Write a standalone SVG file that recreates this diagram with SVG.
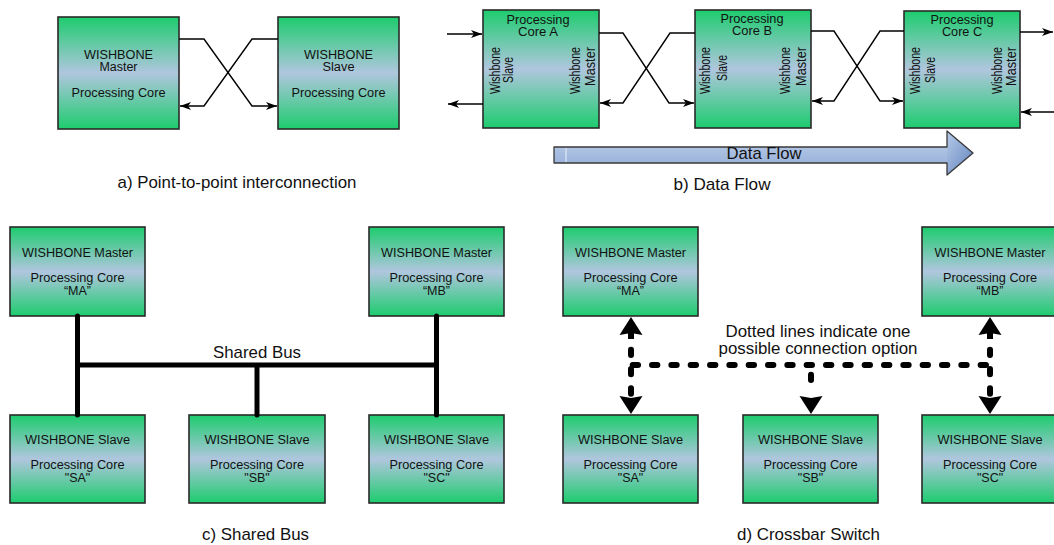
<svg xmlns="http://www.w3.org/2000/svg" width="1054" height="545" viewBox="0 0 1054 545">
  <defs>
    <linearGradient id="core" x1="0" y1="0" x2="0" y2="1">
      <stop offset="0" stop-color="#1dcc6e"/>
      <stop offset="0.5" stop-color="#b0c6de"/>
      <stop offset="1" stop-color="#1dcc6e"/>
    </linearGradient>
    <linearGradient id="flow" x1="0" y1="0" x2="0" y2="1">
      <stop offset="0" stop-color="#c2d3ec"/>
      <stop offset="1" stop-color="#8ea9d5"/>
    </linearGradient>
    <linearGradient id="flowHead" x1="0" y1="0" x2="1" y2="1">
      <stop offset="0" stop-color="#b8cbe8"/>
      <stop offset="1" stop-color="#5f82bd"/>
    </linearGradient>
    <marker id="ah" markerUnits="userSpaceOnUse" markerWidth="12" markerHeight="9" refX="11" refY="4" orient="auto" overflow="visible">
      <path d="M11,4 L0,0 L3,4 L0,8 Z" fill="#000"/>
    </marker>
    <path id="bigHead" d="M0,0 L11.5,18 L0,16 L-11.5,18 Z" fill="#000"/>
  </defs>
  <style>
    .box { fill: url(#core); stroke: #2a2a2a; stroke-width: 1.6; }
    text { font-family: "Liberation Sans", Arial, sans-serif; fill: #111; text-anchor: middle; }
    .t { font-size: 12.5px; }
    .r { font-size: 14.5px; }
    .cap { font-size: 17px; }
    .wire { fill: none; stroke: #000; stroke-width: 1.4; }
    .bus { fill: none; stroke: #000; stroke-width: 5; stroke-linecap: round; }
    .dot { fill: none; stroke: #000; stroke-width: 6; stroke-linecap: round; stroke-dasharray: 5.33 14; }
  </style>

  <!-- a) point-to-point -->
  <g id="a-master">
    <rect class="box" x="58" y="17" width="121" height="112"/>
    <text class="t" x="118.5" y="58.5" textLength="69" lengthAdjust="spacingAndGlyphs">WISHBONE</text>
    <text class="t" x="118.5" y="70.5" textLength="38" lengthAdjust="spacingAndGlyphs">Master</text>
    <text class="t" x="118.5" y="96.5" textLength="94" lengthAdjust="spacingAndGlyphs">Processing Core</text>
  </g>
  <g id="a-slave">
    <rect class="box" x="278" y="17" width="121" height="112"/>
    <text class="t" x="338.5" y="58.5" textLength="69" lengthAdjust="spacingAndGlyphs">WISHBONE</text>
    <text class="t" x="338.5" y="70.5" textLength="32" lengthAdjust="spacingAndGlyphs">Slave</text>
    <text class="t" x="338.5" y="96.5" textLength="94" lengthAdjust="spacingAndGlyphs">Processing Core</text>
  </g>
  <g id="a-wires">
    <path class="wire" d="M179,39 H204 L252,106 H277" marker-end="url(#ah)"/>
    <path class="wire" d="M278,39 H252 L204,106 H180" marker-end="url(#ah)"/>
  </g>
  <text class="cap" x="237" y="188" textLength="239" lengthAdjust="spacingAndGlyphs">a) Point-to-point interconnection</text>

  <!-- b) data flow -->
  <g id="core-a">
    <rect class="box" x="483" y="10" width="116" height="118"/>
    <text class="t" x="538" y="23.5" textLength="63" lengthAdjust="spacingAndGlyphs">Processing</text>
    <text class="t" x="538" y="36" textLength="40" lengthAdjust="spacingAndGlyphs">Core A</text>
    <text class="r" transform="translate(500,70.5) rotate(-90)" textLength="47" lengthAdjust="spacingAndGlyphs">Wishbone</text>
    <text class="r" transform="translate(513,70) rotate(-90)" textLength="26" lengthAdjust="spacingAndGlyphs">Slave</text>
    <text class="r" transform="translate(580,70.5) rotate(-90)" textLength="47" lengthAdjust="spacingAndGlyphs">Wishbone</text>
    <text class="r" transform="translate(595,66.5) rotate(-90)" textLength="39" lengthAdjust="spacingAndGlyphs">Master</text>
  </g>
  <g id="core-b">
    <rect class="box" x="695" y="10" width="116" height="118"/>
    <text class="t" x="752" y="22.5" textLength="63" lengthAdjust="spacingAndGlyphs">Processing</text>
    <text class="t" x="752" y="34.5" textLength="40" lengthAdjust="spacingAndGlyphs">Core B</text>
    <text class="r" transform="translate(710,70.5) rotate(-90)" textLength="47" lengthAdjust="spacingAndGlyphs">Wishbone</text>
    <text class="r" transform="translate(727,68) rotate(-90)" textLength="26" lengthAdjust="spacingAndGlyphs">Slave</text>
    <text class="r" transform="translate(790,70.5) rotate(-90)" textLength="47" lengthAdjust="spacingAndGlyphs">Wishbone</text>
    <text class="r" transform="translate(806,66.5) rotate(-90)" textLength="39" lengthAdjust="spacingAndGlyphs">Master</text>
  </g>
  <g id="core-c">
    <rect class="box" x="904" y="11" width="116" height="117"/>
    <text class="t" x="962" y="23.5" textLength="63" lengthAdjust="spacingAndGlyphs">Processing</text>
    <text class="t" x="962" y="36" textLength="40" lengthAdjust="spacingAndGlyphs">Core C</text>
    <text class="r" transform="translate(920,70.5) rotate(-90)" textLength="47" lengthAdjust="spacingAndGlyphs">Wishbone</text>
    <text class="r" transform="translate(935,70) rotate(-90)" textLength="26" lengthAdjust="spacingAndGlyphs">Slave</text>
    <text class="r" transform="translate(1002,70.5) rotate(-90)" textLength="47" lengthAdjust="spacingAndGlyphs">Wishbone</text>
    <text class="r" transform="translate(1016,66.5) rotate(-90)" textLength="39" lengthAdjust="spacingAndGlyphs">Master</text>
  </g>
  <g id="b-wires">
    <path class="wire" d="M447,34 H482" marker-end="url(#ah)"/>
    <path class="wire" d="M483,104 H448" marker-end="url(#ah)"/>
    <path class="wire" d="M599,33 H623 L669,103 H694" marker-end="url(#ah)"/>
    <path class="wire" d="M695,33 H670 L623,103 H600" marker-end="url(#ah)"/>
    <path class="wire" d="M811,31 H834 L880,101 H903" marker-end="url(#ah)"/>
    <path class="wire" d="M904,31 H880 L834,101 H812" marker-end="url(#ah)"/>
    <path class="wire" d="M1020,32 H1053" marker-end="url(#ah)"/>
    <path class="wire" d="M1054,112 H1021" marker-end="url(#ah)"/>
  </g>
  <g id="data-flow">
    <path d="M554,147 H947 V131 L973,153 L947,175 V163 H554 Z" fill="url(#flow)"/>
    <path d="M947,131 L973,153 L947,175 Z" fill="url(#flowHead)"/>
    <path d="M554,147 H947 V131 L973,153 L947,175 V163 H554 Z" fill="none" stroke="#3a3a3a" stroke-width="1.3" stroke-linejoin="round"/>
    <line x1="566" y1="148" x2="566" y2="162" stroke="#e8f0fb" stroke-width="1"/>
    <text class="cap" x="764" y="159" textLength="75" lengthAdjust="spacingAndGlyphs">Data Flow</text>
  </g>
  <text class="cap" x="722" y="190" textLength="97" lengthAdjust="spacingAndGlyphs">b) Data Flow</text>

  <!-- c) shared bus -->
  <g id="c-ma">
    <rect class="box" x="10" y="227" width="135" height="89"/>
    <text class="t" x="77.5" y="256.5" textLength="111" lengthAdjust="spacingAndGlyphs">WISHBONE Master</text>
    <text class="t" x="77.5" y="281.5" textLength="94" lengthAdjust="spacingAndGlyphs">Processing Core</text>
    <text class="t" x="77.5" y="294.5">“MA”</text>
  </g>
  <g id="c-mb">
    <rect class="box" x="369" y="227" width="135" height="89"/>
    <text class="t" x="436.5" y="256.5" textLength="111" lengthAdjust="spacingAndGlyphs">WISHBONE Master</text>
    <text class="t" x="436.5" y="281.5" textLength="94" lengthAdjust="spacingAndGlyphs">Processing Core</text>
    <text class="t" x="436.5" y="294.5">“MB”</text>
  </g>
  <g id="c-sa">
    <rect class="box" x="10" y="415" width="135" height="88"/>
    <text class="t" x="77.5" y="443.5" textLength="105" lengthAdjust="spacingAndGlyphs">WISHBONE Slave</text>
    <text class="t" x="77.5" y="468.5" textLength="94" lengthAdjust="spacingAndGlyphs">Processing Core</text>
    <text class="t" x="77.5" y="481.5">"SA"</text>
  </g>
  <g id="c-sb">
    <rect class="box" x="189" y="415" width="136" height="88"/>
    <text class="t" x="257" y="443.5" textLength="105" lengthAdjust="spacingAndGlyphs">WISHBONE Slave</text>
    <text class="t" x="257" y="468.5" textLength="94" lengthAdjust="spacingAndGlyphs">Processing Core</text>
    <text class="t" x="257" y="481.5">"SB"</text>
  </g>
  <g id="c-sc">
    <rect class="box" x="369" y="415" width="135" height="88"/>
    <text class="t" x="436.5" y="443.5" textLength="105" lengthAdjust="spacingAndGlyphs">WISHBONE Slave</text>
    <text class="t" x="436.5" y="468.5" textLength="94" lengthAdjust="spacingAndGlyphs">Processing Core</text>
    <text class="t" x="436.5" y="481.5">"SC"</text>
  </g>
  <g id="c-bus">
    <path class="bus" d="M77.5,316 V415 M436.5,316 V415 M77.5,365 H436.5 M257,365 V415"/>
  </g>
  <text class="cap" x="257" y="358" textLength="88" lengthAdjust="spacingAndGlyphs">Shared Bus</text>
  <text class="cap" x="255.5" y="540" textLength="107" lengthAdjust="spacingAndGlyphs">c) Shared Bus</text>

  <!-- d) crossbar switch -->
  <g id="d-ma">
    <rect class="box" x="563" y="227" width="135" height="89"/>
    <text class="t" x="630.5" y="256.5" textLength="111" lengthAdjust="spacingAndGlyphs">WISHBONE Master</text>
    <text class="t" x="630.5" y="281.5" textLength="94" lengthAdjust="spacingAndGlyphs">Processing Core</text>
    <text class="t" x="630.5" y="294.5">“MA”</text>
  </g>
  <g id="d-mb">
    <rect class="box" x="922" y="227" width="136" height="89"/>
    <text class="t" x="990" y="256.5" textLength="111" lengthAdjust="spacingAndGlyphs">WISHBONE Master</text>
    <text class="t" x="990" y="281.5" textLength="94" lengthAdjust="spacingAndGlyphs">Processing Core</text>
    <text class="t" x="990" y="294.5">“MB”</text>
  </g>
  <g id="d-sa">
    <rect class="box" x="563" y="415" width="135" height="88"/>
    <text class="t" x="630.5" y="443.5" textLength="105" lengthAdjust="spacingAndGlyphs">WISHBONE Slave</text>
    <text class="t" x="630.5" y="468.5" textLength="94" lengthAdjust="spacingAndGlyphs">Processing Core</text>
    <text class="t" x="630.5" y="481.5">"SA"</text>
  </g>
  <g id="d-sb">
    <rect class="box" x="743" y="415" width="135" height="88"/>
    <text class="t" x="810.5" y="443.5" textLength="105" lengthAdjust="spacingAndGlyphs">WISHBONE Slave</text>
    <text class="t" x="810.5" y="468.5" textLength="94" lengthAdjust="spacingAndGlyphs">Processing Core</text>
    <text class="t" x="810.5" y="481.5">"SB"</text>
  </g>
  <g id="d-sc">
    <rect class="box" x="922" y="415" width="136" height="88"/>
    <text class="t" x="990" y="443.5" textLength="105" lengthAdjust="spacingAndGlyphs">WISHBONE Slave</text>
    <text class="t" x="990" y="468.5" textLength="94" lengthAdjust="spacingAndGlyphs">Processing Core</text>
    <text class="t" x="990" y="481.5">"SC"</text>
  </g>
  <g id="d-crossbar">
    <path class="dot" d="M632.7,365 H990"/>
    <path class="dot" d="M631,349.7 V394"/>
    <path class="dot" d="M811,374.7 V394"/>
    <path class="dot" d="M990,349.7 V394"/>
    <line x1="631" y1="330" x2="631" y2="339" stroke="#000" stroke-width="6"/>
    <line x1="990" y1="330" x2="990" y2="339" stroke="#000" stroke-width="6"/>
    <use href="#bigHead" transform="translate(631,317)"/>
    <use href="#bigHead" transform="translate(990,317)"/>
    <use href="#bigHead" transform="translate(631,414) rotate(180)"/>
    <use href="#bigHead" transform="translate(811,414) rotate(180)"/>
    <use href="#bigHead" transform="translate(990,414) rotate(180)"/>
  </g>
  <text class="cap" x="818" y="337" textLength="185" lengthAdjust="spacingAndGlyphs">Dotted lines indicate one</text>
  <text class="cap" x="818" y="354" textLength="199" lengthAdjust="spacingAndGlyphs">possible connection option</text>
  <text class="cap" x="808.5" y="540" textLength="143" lengthAdjust="spacingAndGlyphs">d) Crossbar Switch</text>
</svg>
